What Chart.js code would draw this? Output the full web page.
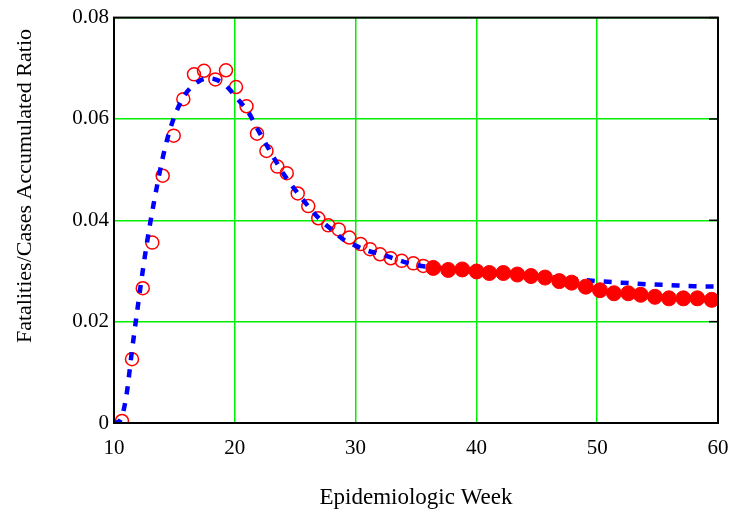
<!DOCTYPE html>
<html>
<head>
<meta charset="utf-8">
<script src="https://cdn.jsdelivr.net/npm/chart.js@4"></script>
<style>
  body { margin: 0; background: #fff; }
</style>
</head>
<body>
<canvas id="myChart" width="735" height="515"></canvas>
<script>
// observed ratio, first part (open circles)
const openWeeks = [10.66, 11.49, 12.38, 13.17, 14.03, 14.94, 15.74, 16.62, 17.45, 18.39,
    19.27, 20.10, 20.97, 21.84, 22.62, 23.52, 24.30, 25.21, 26.08, 26.91,
    27.74, 28.60, 29.48, 30.42, 31.19, 32.02, 32.91, 33.82, 34.78, 35.60];
const openRatio = [0.0004, 0.0126, 0.0266, 0.0356, 0.0488, 0.0567, 0.0639, 0.0688, 0.0695, 0.0678,
    0.0696, 0.0663, 0.0625, 0.0571, 0.0537, 0.0506, 0.0493, 0.0453, 0.0428, 0.0404,
    0.0390, 0.0382, 0.0366, 0.0353, 0.0343, 0.0333, 0.0325, 0.0320, 0.0315, 0.0310];

// observed ratio, second part (filled circles)
const filledWeeks = [36.43, 37.67, 38.83, 40.02, 41.07, 42.23, 43.39, 44.52, 45.68, 46.86,
    47.88, 49.05, 50.23, 51.39, 52.57, 53.60, 54.78, 55.94, 57.13, 58.29, 59.48];
const filledRatio = [0.0306, 0.0302, 0.0303, 0.0299, 0.0296, 0.0296, 0.0293, 0.0290, 0.0287, 0.0280,
    0.0277, 0.0269, 0.0262, 0.0256, 0.0256, 0.0253, 0.0249, 0.0246, 0.0246, 0.0246, 0.0243];

// model curve (blue dashes)
const modelWeeks = [10, 10.5, 11, 11.5, 12, 12.5, 13, 13.5, 14, 14.5, 15, 15.5, 16, 16.5, 17, 17.5,
    18, 18.5, 19, 19.5, 20, 20.5, 21, 22, 23, 24, 25, 26, 27, 28, 29, 30, 31, 32, 33, 34, 35, 36,
    38, 40, 42, 44, 46, 48, 50, 52, 54, 56, 58, 60];
const modelRatio = [0, 0.0005, 0.005, 0.0145, 0.0235, 0.032, 0.0395, 0.046, 0.052, 0.0568, 0.0605, 0.0632,
    0.0652, 0.0665, 0.0674, 0.0679, 0.068, 0.0677, 0.0671, 0.066, 0.0646, 0.0632, 0.0618, 0.0575,
    0.0533, 0.0493, 0.046, 0.043, 0.0403, 0.0382, 0.0362, 0.035, 0.034, 0.0334, 0.0326, 0.0318,
    0.0312, 0.0308, 0.0304, 0.0300, 0.0298, 0.0293, 0.0288, 0.0284, 0.0280, 0.0277, 0.0274, 0.0272,
    0.0270, 0.0269];

const xTitle = 'Epidemiologic Week';
const yTitle = 'Fatalities/Cases Accumulated Ratio';

const serif = '"Liberation Serif", "Times New Roman", serif';

function toPoints(xs, ys) {
    return xs.map((x, i) => ({x: x, y: ys[i]}));
}

// box round the plot, inner ticks on the right side and the two axis titles
const framePlugin = {
    id: 'frame',
    afterDatasetsDraw(chart) {
        const {ctx, chartArea: a, scales} = chart;
        ctx.save();
        ctx.strokeStyle = '#000';
        ctx.lineWidth = 2;
        ctx.strokeRect(a.left, a.top, a.right - a.left, a.bottom - a.top);
        ctx.lineWidth = 1.5;
        scales.y.ticks.forEach(t => {
            const py = scales.y.getPixelForValue(t.value);
            ctx.beginPath();
            ctx.moveTo(a.right - 9, py);
            ctx.lineTo(a.right, py);
            ctx.stroke();
        });
        ctx.fillStyle = '#000';
        ctx.font = '23px ' + serif;
        ctx.textAlign = 'center';
        ctx.textBaseline = 'middle';
        ctx.fillText(xTitle, (a.left + a.right) / 2, 498);
        ctx.font = '22px ' + serif;
        ctx.translate(25, 186);
        ctx.rotate(-Math.PI / 2);
        ctx.fillText(yTitle, 0, 0);
        ctx.restore();
    }
};

const ctx = document.getElementById('myChart');
new Chart(ctx, {
    type: 'scatter',
    data: {
        datasets: [
            {
                label: 'observed (later)',
                data: toPoints(filledWeeks, filledRatio),
                pointStyle: 'circle',
                pointRadius: 7.5,
                pointBackgroundColor: '#ff0000',
                pointBorderColor: '#ff0000',
                pointBorderWidth: 1,
                order: 0
            },
            {
                label: 'model',
                type: 'line',
                data: toPoints(modelWeeks, modelRatio),
                borderColor: '#0000ff',
                borderWidth: 4.5,
                borderDash: [8, 9],
                cubicInterpolationMode: 'monotone',
                pointRadius: 0,
                fill: false,
                order: 1
            },
            {
                label: 'observed',
                data: toPoints(openWeeks, openRatio),
                pointStyle: 'circle',
                pointRadius: 6.5,
                pointBackgroundColor: 'rgba(0,0,0,0)',
                pointBorderColor: '#ff0000',
                pointBorderWidth: 1.5,
                order: 2
            }
        ]
    },
    options: {
        responsive: false,
        animation: false,
        layout: {padding: {top: 17, right: 17, left: 0, bottom: 0}},
        plugins: {legend: {display: false}, tooltip: {enabled: false}},
        scales: {
            x: {
                type: 'linear',
                min: 10,
                max: 60,
                ticks: {stepSize: 10, color: '#000', font: {family: serif, size: 21}, padding: 13,
                    callback: v => String(v)},
                grid: {color: '#00ee00', lineWidth: 1.5, drawTicks: false},
                border: {color: '#000', width: 2},
                afterFit: s => { s.height = 92; s.paddingLeft = 0; s.paddingRight = 0; }
            },
            y: {
                min: 0,
                max: 0.08,
                ticks: {stepSize: 0.02, color: '#000', font: {family: serif, size: 21}, padding: 5,
                    callback: v => v === 0 ? '0' : v.toFixed(2)},
                grid: {color: '#00ee00', lineWidth: 1.5, drawTicks: false},
                border: {color: '#000', width: 2},
                afterFit: s => { s.width = 114; }
            }
        }
    },
    plugins: [framePlugin]
});
</script>
</body>
</html>
